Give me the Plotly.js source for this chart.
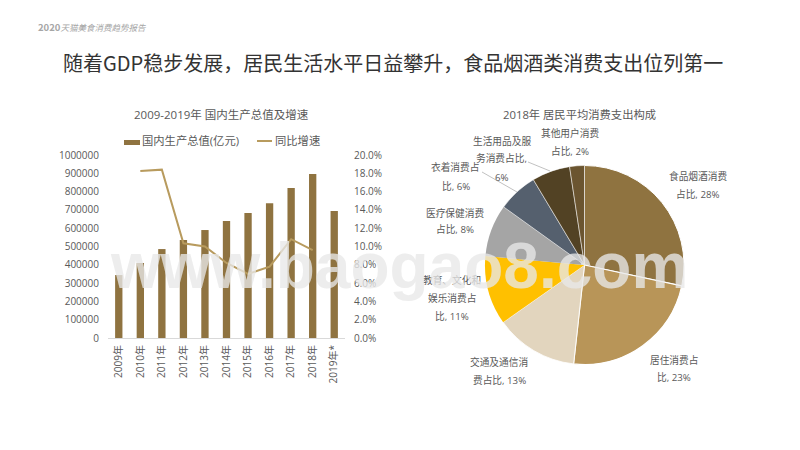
<!DOCTYPE html>
<html><head><meta charset="utf-8">
<script src="https://cdn.plot.ly/plotly-3.0.1.min.js"></script>
<style>html,body{margin:0;padding:0;background:#fff}#c{width:800px;height:450px}</style></head>
<body><div id="c"></div>
<script>
const years = ['2009年','2010年','2011年','2012年','2013年','2014年','2015年','2016年','2017年','2018年','2019年*'];
const gdp = [344000,410000,486000,535000,590000,640000,683000,737000,820000,896000,694000];
const growth = [null,18.25,18.4,10.35,10.0,8.2,7.0,7.8,10.8,9.6,null];
const seriesNames = ['国内生产总值(亿元)','同比增速'];
const sliceNames = ['食品烟酒消费','居住消费','交通及通信消费','教育、文化和娱乐消费','医疗保健消费','衣着消费','生活用品及服务消费','其他用户消费'];
const sliceValues = [28.4,23.4,13.5,11.2,8.5,6.5,6.2,2.4];
const sliceColors = ['#8F7340','#B89558','#E2D5BE','#FFC000','#A5A5A5','#55606E','#524224','#6B5530'];
const grey = '#595959';
const font = '"Open Sans","Noto Sans CJK SC",sans-serif';
const cjk = '"Noto Sans CJK SC",sans-serif';

const pieLabelLines = [
  ['其他用户消费',570,133],['占比, 2%',570,151],
  ['生活用品及服',502,141],['务消费占比,',502,159],['6%',502,177],
  ['衣着消费占',455,168],['比, 6%',456,186],
  ['医疗保健消费',455,213],['占比, 8%',455,230],
  ['教育、文化和',452,280],['娱乐消费占',452,298],['比, 11%',452,316],
  ['交通及通信消',499,362],['费占比, 13%',499,380],
  ['居住消费占',674,360],['比, 23%',674,377],
  ['食品烟酒消费',698,176],['占比, 28%',698,194]
];
const px = (x,y,o)=>Object.assign({xref:'paper',yref:'paper',x:x/800,y:1-y/450,showarrow:false,xanchor:'center',yanchor:'middle'},o);
const annotations = [
  px(36,27,{text:'<b><span style="font-size:9.5px">2020</span></b><i>天猫美食消费趋势报告</i>',xanchor:'left',font:{family:cjk,size:8.5,color:'#A6A6A6'}}),
  px(393,62,{text:'随着GDP稳步发展，居民生活水平日益攀升，食品烟酒类消费支出位列第一',font:{family:cjk,size:20,color:'#333333'}}),
  px(221,114,{text:'2009-2019年 国内生产总值及增速',font:{family:font,size:11.5,color:grey}}),
  px(579,114,{text:'2018年 居民平均消费支出构成',font:{family:font,size:11.3,color:grey}}),
  px(140,140.5,{text:seriesNames[0],xanchor:'left',font:{family:font,size:11.3,color:grey}}),
  px(273,140.5,{text:seriesNames[1],xanchor:'left',font:{family:font,size:11.3,color:grey}})
];
pieLabelLines.forEach(l=>annotations.push(px(l[1],l[2],{text:l[0],font:{family:font,size:9.7,color:grey}})));
annotations.push(px(399,266,{text:'<b>www.baogao8.com</b>',font:{family:'"Liberation Sans",sans-serif',size:64,color:'rgba(232,232,232,0.78)'}}));

const traces = [
 {type:'bar',name:seriesNames[0],x:years,y:gdp,width:0.34,marker:{color:sliceColors[0]},xaxis:'x',yaxis:'y',showlegend:false},
 {type:'scatter',mode:'lines',name:seriesNames[1],x:years,y:growth,line:{color:'#B89B5E',width:2},xaxis:'x',yaxis:'y2',showlegend:false},
 {type:'pie',labels:sliceNames,values:sliceValues,sort:false,direction:'clockwise',rotation:0,textinfo:'none',hoverinfo:'label+percent',
  marker:{colors:sliceColors,line:{color:'#fff',width:[1,1.2,0.8,0,0,0.5,0.5,0.5]}},
  domain:{x:[485/800,684/800],y:[1-365/450,1-165/450]},showlegend:false}
];
const layout = {
  width:800,height:450,margin:{l:0,r:0,t:0,b:0},paper_bgcolor:'#fff',plot_bgcolor:'rgba(0,0,0,0)',
  font:{family:font,color:grey,size:10},showlegend:false,
  xaxis:{domain:[108/800,345/800],anchor:'y',type:'category',tickangle:-90,showline:true,linecolor:'#D9D9D9',linewidth:1,ticks:'',tickfont:{family:font,size:10,color:grey},showgrid:false,zeroline:false,ticklabelstandoff:2},
  yaxis:{domain:[1-338/450,1-155/450],range:[0,1000000],dtick:100000,tickformat:'d',showgrid:false,zeroline:false,showline:false,ticks:'',tickfont:{family:font,size:10,color:grey},side:'left',ticklabelstandoff:8},
  yaxis2:{domain:[1-338/450,1-155/450],overlaying:'y',side:'right',anchor:'x',range:[0,20],dtick:2,tickformat:'.1f',ticksuffix:'%',showgrid:false,zeroline:false,showline:false,ticks:'',tickfont:{family:font,size:10,color:grey},ticklabelstandoff:8},
  annotations:annotations,
  shapes:[
   {type:'line',xref:'paper',yref:'paper',x0:528/800,y0:1-162/450,x1:550/800,y1:1-171/450,line:{color:'#A6A6A6',width:0.7}},
   {type:'line',xref:'paper',yref:'paper',x0:482/800,y0:1-172/450,x1:517/800,y1:1-192/450,line:{color:'#A6A6A6',width:0.7}},
   {type:'rect',xref:'paper',yref:'paper',x0:124/800,y0:1-140/450,x1:140/800,y1:1-145/450,fillcolor:sliceColors[0],line:{width:0}},
   {type:'line',xref:'paper',yref:'paper',x0:257/800,y0:1-141/450,x1:272/800,y1:1-141/450,line:{color:'#B89B5E',width:2}}
  ]
};
Plotly.newPlot('c',traces,layout,{displayModeBar:false,responsive:false});
</script></body></html>
